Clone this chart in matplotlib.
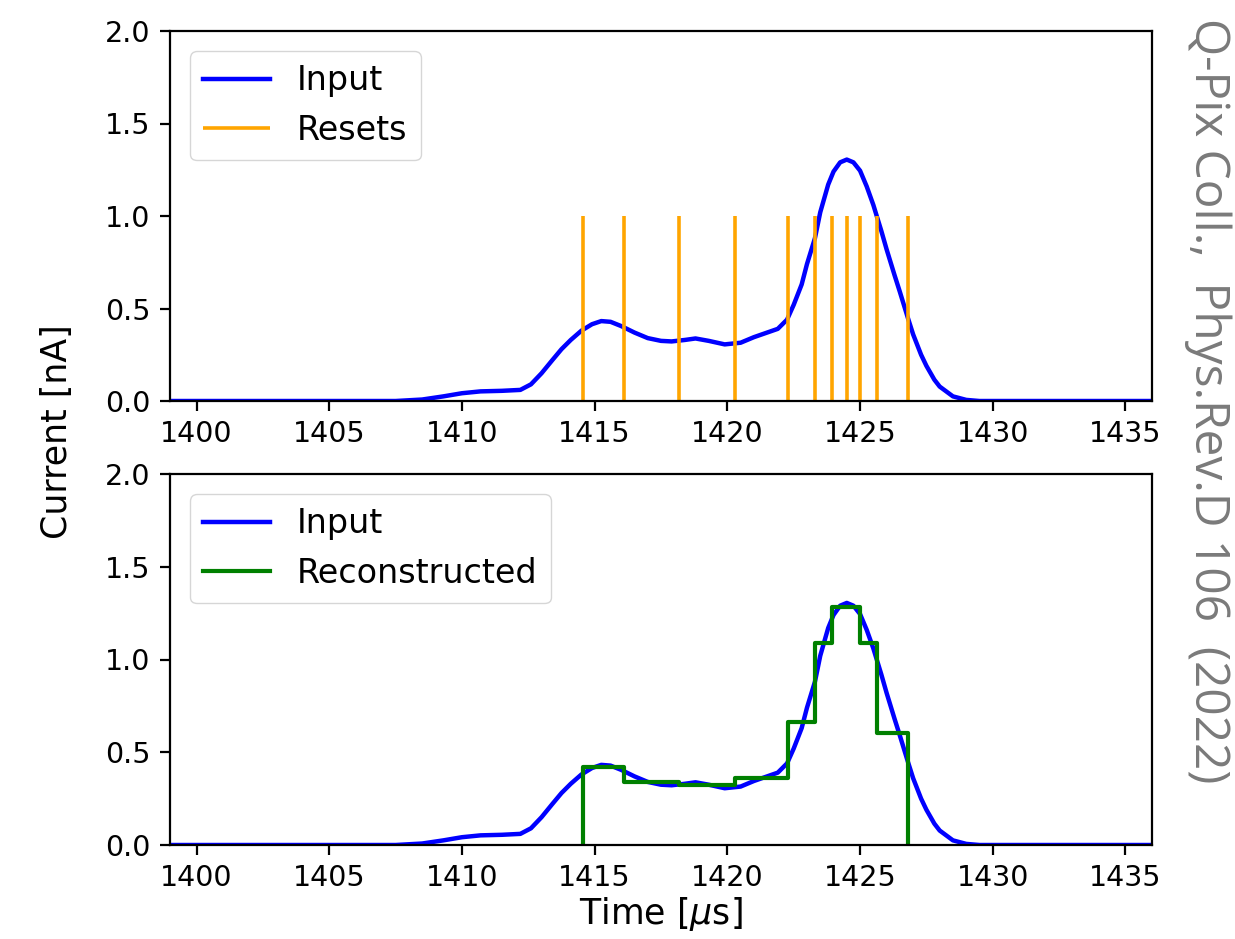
import numpy as np
import matplotlib
matplotlib.use("Agg")
import matplotlib.pyplot as plt

# Input current
t_input = [1399, 1407.5, 1408.5, 1409.3, 1410.0, 1410.7, 1411.5, 1412.2, 1412.6, 1413.0,
           1413.4, 1413.75, 1414.1, 1414.5, 1414.9, 1415.25, 1415.6, 1416.0, 1416.5, 1417.0,
           1417.5, 1417.9, 1418.4, 1418.8, 1419.3, 1419.9, 1420.5, 1421.0, 1421.5, 1421.9,
           1422.25, 1422.5, 1422.8, 1423.0, 1423.3, 1423.5, 1423.8, 1424.0, 1424.25, 1424.5,
           1424.75, 1425.0, 1425.25, 1425.5, 1425.8, 1426.0, 1426.3, 1426.5, 1426.8, 1427.0,
           1427.3, 1427.5, 1427.8, 1428.0, 1428.5, 1429.0, 1429.5, 1436]
i_input = [0, 0, 0.008, 0.025, 0.042, 0.052, 0.055, 0.06, 0.09, 0.15,
           0.22, 0.28, 0.33, 0.38, 0.415, 0.432, 0.428, 0.405, 0.37, 0.34,
           0.325, 0.322, 0.33, 0.338, 0.325, 0.306, 0.315, 0.345, 0.37, 0.39,
           0.44, 0.52, 0.63, 0.74, 0.88, 1.02, 1.17, 1.24, 1.29, 1.305,
           1.29, 1.245, 1.16, 1.06, 0.92, 0.82, 0.68, 0.59, 0.45, 0.36,
           0.25, 0.19, 0.115, 0.078, 0.025, 0.006, 0, 0]

# Reset times
resets = [1414.57, 1416.12, 1418.19, 1420.29, 1422.27, 1423.32, 1423.94,
          1424.49, 1425.01, 1425.65, 1426.81]

# Reconstructed current on each interval between resets
recon = [0.422, 0.341, 0.323, 0.36, 0.665, 1.087, 1.281, 1.281, 1.087, 0.605]

tick_fs = 20.5
lab_fs = 25
plt.rcParams.update({
    "font.size": lab_fs,
    "axes.linewidth": 1.6,
    "xtick.major.width": 1.6,
    "ytick.major.width": 1.6,
    "xtick.major.size": 7,
    "ytick.major.size": 7,
    "xtick.major.pad": 7,
    "ytick.major.pad": 7,
    "xtick.labelsize": tick_fs,
    "ytick.labelsize": tick_fs,
    "legend.fontsize": 24,
})

fig = plt.figure(figsize=(12.35, 9.39), dpi=100)
L, R = 170 / 1235, 1152 / 1235
ax1 = fig.add_axes([L, 1 - 401 / 939, R - L, (401 - 31) / 939])
ax2 = fig.add_axes([L, 1 - 845 / 939, R - L, (845 - 474) / 939])

ax1.plot(t_input, i_input, color="blue", lw=3.2, label="Input")
ax1.vlines(resets, 0, 1.0, color="orange", lw=2.6, label="Resets")

ax2.plot(t_input, i_input, color="blue", lw=3.2, label="Input")
xs = np.array(resets)
step_x = np.concatenate([[xs[0]], xs])
step_y = np.concatenate([[0.0], recon, [0.0]])
ax2.step(step_x, step_y, where="post", color="green", lw=3.0, label="Reconstructed")

for ax in (ax1, ax2):
    ax.set_xlim(1399, 1436)
    ax.set_ylim(0, 2.0)
    ax.set_xticks([1400, 1405, 1410, 1415, 1420, 1425, 1430, 1435])
    ax.set_yticks([0.0, 0.5, 1.0, 1.5, 2.0])
    ax.legend(loc="upper left", borderaxespad=0.6)

ax2.set_xlabel(r"Time [$\mu$s]", fontsize=lab_fs, labelpad=2)
fig.text(57 / 1235, 1 - 432 / 939, "Current [nA]", rotation=90,
         ha="center", va="center", fontsize=lab_fs)

fig.text(1208 / 1235, 1 - 18 / 939, "Q-Pix Coll.,  Phys.Rev.D 106  (2022)",
         rotation=-90, ha="center", va="top", fontsize=34.5,
         family="Open Sans", color="#7a7a7a")

fig.savefig("out.png", dpi=100)
